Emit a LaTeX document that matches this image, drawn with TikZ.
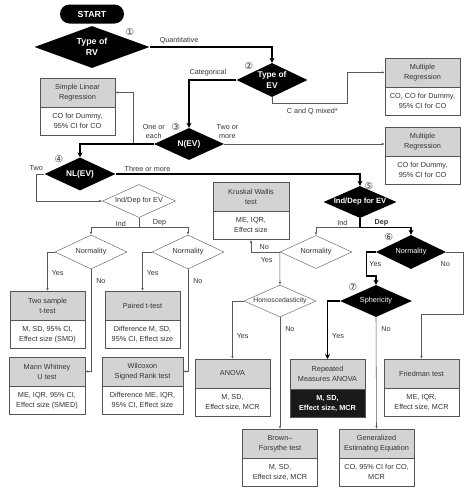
\documentclass[tikz,border=0pt]{standalone}
\usepackage{fontspec}
\setmainfont{Liberation Sans}
\newfontfamily\circfont{DejaVu Sans}
\usetikzlibrary{shapes.geometric,arrows.meta}

\definecolor{headgray}{HTML}{D3D3D3}
\definecolor{boxline}{HTML}{555555}
\definecolor{linegray}{HTML}{5A5A5A}
\definecolor{txtgray}{HTML}{333333}

\tikzset{
  headbox/.style={draw=boxline, fill=headgray, minimum height=28.5pt, inner sep=1pt,
    align=center, text=txtgray, font=\fontsize{7.3}{10}\selectfont},
  bodybox/.style={draw=boxline, fill=white, minimum height=28.5pt, inner sep=1pt,
    align=center, text=txtgray, font=\fontsize{7.3}{10}\selectfont},
  startbox/.style={fill=black, text=white, rounded corners=9.5pt, minimum width=64pt,
    minimum height=19pt, font=\fontsize{8.8}{10}\selectfont\bfseries},
  dia/.style={diamond, inner xsep=-4pt, inner ysep=0pt, align=center},
  blackdia/.style={dia, fill=black, text=white, font=\fontsize{8.3}{10.5}\selectfont\bfseries},
  whitedia/.style={dia, draw=boxline, fill=white, text=txtgray, font=\fontsize{7.3}{10}\selectfont},
  lbl/.style={text=txtgray, font=\fontsize{7.2}{9}\selectfont, inner sep=1pt, align=center},
  num/.style={text=txtgray, font=\circfont\fontsize{9.5}{9.5}\selectfont, inner sep=0pt},
  sideline/.style={draw=linegray, line width=0.55pt, -{Latex[length=3pt,width=2.4pt]}},
  mainline/.style={draw=black, line width=1.3pt, -{Stealth[length=5pt,width=5pt]}},
}

% header box with a body box under it
\newcommand\testbox[6][75]{%
  \node[headbox, minimum width=#1pt, anchor=north] (#2) at (#3,#4) {#5};
  \node[bodybox, minimum width=#1pt, anchor=north] (#2-b) at (#2.south) {#6};
}

\begin{document}
\begin{tikzpicture}[x=1pt,y=-1pt]
\useasboundingbox (0,0) rectangle (474,493);

% decisions
\node[startbox] (start) at (92,14) {START};
\node[blackdia, minimum width=115pt, minimum height=42pt, aspect=2.7,
  font=\fontsize{8.8}{11}\selectfont\bfseries] (rv) at (92,47) {Type of\\RV};
\node[blackdia, minimum width=71pt, minimum height=34pt, aspect=2.1] (ev) at (272,80) {Type of\\EV};
\node[blackdia, minimum width=70pt, minimum height=32pt, aspect=2.2] (nev) at (189,144) {N(EV)};
\node[blackdia, minimum width=71pt, minimum height=33pt, aspect=2.2] (nlev) at (80,174) {NL(EV)};
\node[whitedia, minimum width=73pt, minimum height=33pt, aspect=2.2] (idl) at (139,201) {Ind/Dep for EV};
\node[whitedia, minimum width=72pt, minimum height=34pt, aspect=2.1] (norma) at (91,252) {Normality};
\node[whitedia, minimum width=72pt, minimum height=34pt, aspect=2.1] (normb) at (188,252) {Normality};
\node[blackdia, minimum width=73pt, minimum height=32pt, aspect=2.3,
  font=\fontsize{7.6}{10}\selectfont\bfseries] (idr) at (360,202) {Ind/Dep for EV};
\node[whitedia, minimum width=72pt, minimum height=33pt, aspect=2.2] (normc) at (316,252) {Normality};
\node[whitedia, minimum width=72pt, minimum height=32pt, aspect=2.25,
  font=\fontsize{6.8}{9}\selectfont] (homo) at (280,301) {Homoscedasticity};
\node[blackdia, minimum width=70pt, minimum height=34pt, aspect=2.1,
  font=\fontsize{7.3}{10}\selectfont] (normd) at (411,252) {Normality};
\node[blackdia, minimum width=72pt, minimum height=32pt, aspect=2.25,
  font=\fontsize{7.3}{10}\selectfont] (sph) at (376,301) {Sphericity};

% step numbers
\node[num] (n1) at (130,32) {①};
\node[num] (n2) at (249,66) {②};
\node[num] (n3) at (176,127) {③};
\node[num] (n4) at (59,159) {④};
\node[num] (n5) at (369,186) {⑤};
\node[num] (n6) at (389,237) {⑥};
\node[num] (n7) at (353,287) {⑦};

% tests
\testbox{mra}{422.5}{58}{Multiple\\Regression}{CO, CO for Dummy,\\95\% CI for CO}
\testbox{slr}{77.5}{78}{Simple Linear\\Regression}{CO for Dummy,\\95\% CI for CO}
\testbox{mrb}{422.5}{127}{Multiple\\Regression}{CO for Dummy,\\95\% CI for CO}
\testbox[76]{kw}{251}{182}{Kruskal Wallis\\test}{ME, IQR,\\Effect size}
\testbox{tst}{47.5}{291}{Two sample\\t-test}{M, SD, 95\% CI,\\Effect size (SMD)}
\testbox{ptt}{142.5}{291}{Paired t-test}{Difference M, SD,\\95\% CI, Effect size}
\testbox[76]{mwu}{47}{357}{Mann Whitney\\U test}{ME, IQR, 95\% CI,\\Effect size (SMED)}
\testbox[81]{wsr}{142.5}{357}{Wilcoxon\\Signed Rank test}{Difference ME, IQR,\\95\% CI, Effect size}
\testbox{anova}{232.5}{359}{ANOVA}{M, SD,\\Effect size, MCR}
\node[headbox, minimum width=75pt, minimum height=30pt, anchor=north] (rma) at (327.5,359) {Repeated\\Measures ANOVA};
\node[bodybox, minimum width=75pt, minimum height=28pt, anchor=north, fill=black!90, text=white,
  font=\fontsize{7.3}{10}\selectfont\bfseries] (rma-b) at (rma.south) {M, SD,\\Effect size, MCR};
\testbox{fri}{421.5}{359}{Friedman test}{ME, IQR,\\Effect size, MCR}
\testbox{bft}{280}{429}{Brown--\\Forsythe test}{M, SD,\\Effect size, MCR}
\testbox{gee}{376.5}{429}{Generalized\\Estimating Equation}{CO, 95\% CI for CO,\\MCR}

\coordinate (split3) at (133,144);

% connectors
\draw[mainline] (rv.east) -| node[lbl, above=1pt, pos=0.12] {Quantitative} (ev.north);
\draw[sideline] (ev.south) -- ++(0,6) -| node[lbl, below=4pt, pos=0.27] {C and Q mixed*}
  ([xshift=-38pt]mra.west) -- (mra.west);
\draw[mainline] (ev.west) -| node[lbl, above=2pt, pos=0.3] {Categorical} (nev.north);
\draw[sideline] (split3) |- (slr.east);
\draw[mainline] (nev.west) -| node[lbl, above=4pt, pos=0] {One or\\each} (nlev.north);
\draw[sideline] (nev.east) -- node[lbl, above=4pt, pos=0.02] {Two or\\more} (nev.east -| mrb.west);
\draw[mainline] (nlev.east) -| node[lbl, above=1pt, pos=0.065] {Three or more} (idr.north);
\draw[sideline] (nlev.west) -- ++(-8,0) node[lbl, above=2pt] {Two} |- (idl.west);

\draw[sideline] (idl.south) -- ++(0,10) -| node[lbl, above, pos=0.19] {Ind} (norma.north);
\draw[sideline] (idl.south) -- ++(0,10) -| node[lbl, above, pos=0.21] {Dep} (normb.north);
\draw[sideline] (norma.west) -| node[lbl, right=3pt, pos=0.77] {Yes} (tst.north);
\draw[sideline] (norma.south) |- node[lbl, right=4pt, pos=0.06] {No} (mwu.east);
\draw[sideline] (normb.west) -| node[lbl, right=3pt, pos=0.77] {Yes} (ptt.north);
\draw[sideline] (normb.south) |- node[lbl, right=4pt, pos=0.06] {No} (wsr.east);

\draw[sideline] (idr.south) -- ++(0,9) -| node[lbl, above, pos=0.2] {Ind} (normc.north);
\draw[mainline] (idr.south) -- ++(0,9) -| node[lbl, above, pos=0.21,
  font=\fontsize{7.2}{9}\selectfont\bfseries] {Dep} (normd.north);
\draw[sideline] (normc.west) -| node[lbl, above=1pt, pos=0.27] {No} (kw-b.south);
\draw[sideline] (normc.west) -- node[lbl, left=6pt, pos=0.24] {Yes} (homo.north);
\draw[sideline] (homo.west) -| node[lbl, right=3pt, pos=0.8] {Yes} (anova.north);
\draw[sideline] (homo.south) -- node[lbl, right=4pt, pos=0.11] {No} (bft.north);

\draw[mainline] (normd.west) -- ++(-9,0) -- node[lbl, right=1pt] {Yes} ++(0,24) -| (sph.north);
\draw[sideline] (normd.east) -- ++(17,0) -- node[lbl, pos=0.2, left=12pt] {No} ++(0,62) -| (fri.north);
\draw[mainline] (sph.west) -| node[lbl, right=3pt, pos=0.8] {Yes} (rma.north);
\draw[sideline] (sph.south) -- node[lbl, right=4pt, pos=0.11] {No} (gee.north);
\end{tikzpicture}
\end{document}
